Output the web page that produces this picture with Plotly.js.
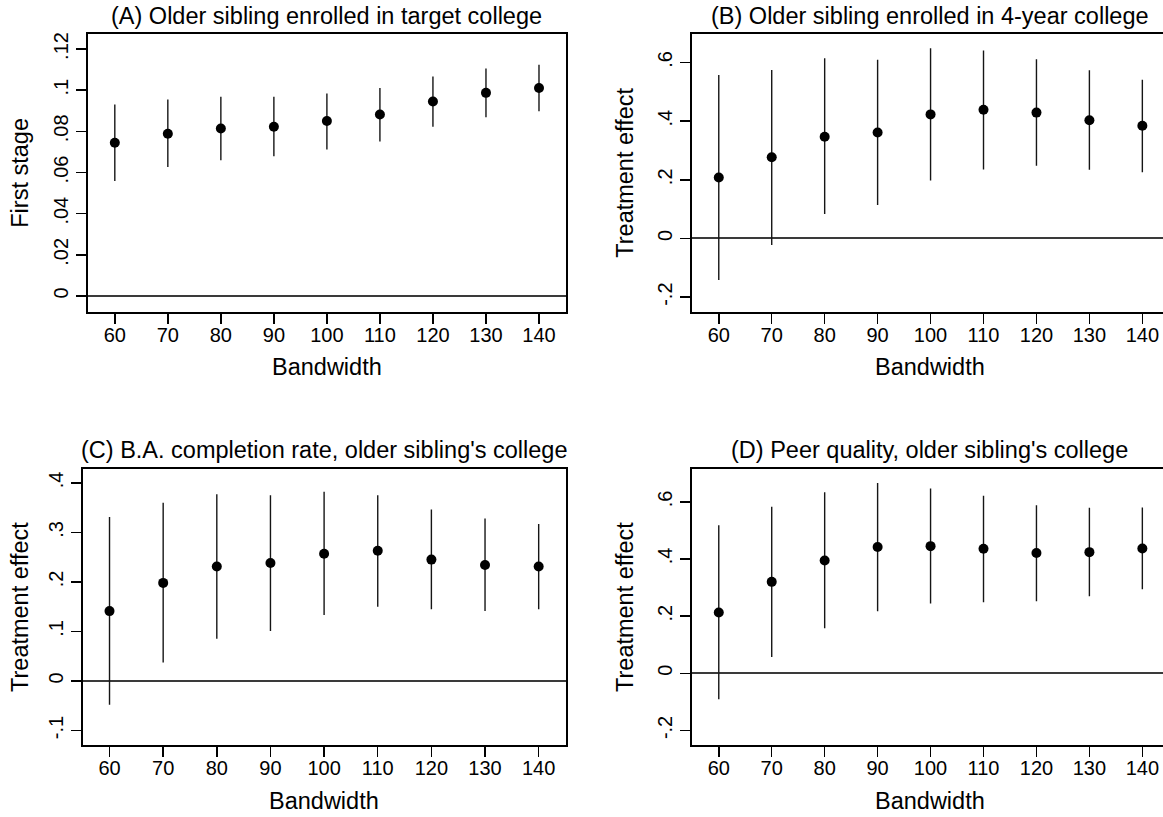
<!DOCTYPE html>
<html>
<head>
<meta charset="utf-8">
<script src="https://cdn.plot.ly/plotly-3.0.1.min.js"></script>
<style>
  html, body { margin: 0; padding: 0; background: #ffffff; overflow: hidden; }
  #chart { width: 1163px; height: 817px; }
</style>
</head>
<body>
<div id="chart"></div>
<script>
// ---- Data ----
const bandwidth = [60, 70, 80, 90, 100, 110, 120, 130, 140];

// (A) First stage: older sibling enrolled in target college
const estA = [0.0745, 0.0788, 0.0814, 0.0822, 0.0850, 0.0882, 0.0945, 0.0987, 0.1011];
const loA  = [0.0559, 0.0627, 0.0659, 0.0679, 0.0712, 0.0751, 0.0822, 0.0869, 0.0898];
const hiA  = [0.0931, 0.0955, 0.0968, 0.0968, 0.0984, 0.1011, 0.1066, 0.1105, 0.1124];

// (B) Older sibling enrolled in 4-year college
const estB = [0.208, 0.277, 0.347, 0.361, 0.423, 0.439, 0.429, 0.403, 0.384];
const loB  = [-0.142, -0.022, 0.083, 0.114, 0.198, 0.235, 0.248, 0.234, 0.226];
const hiB  = [0.557, 0.574, 0.614, 0.609, 0.648, 0.641, 0.611, 0.573, 0.541];

// (C) B.A. completion rate, older sibling's college
const estC = [0.141, 0.198, 0.231, 0.238, 0.257, 0.263, 0.245, 0.234, 0.231];
const loC  = [-0.048, 0.037, 0.085, 0.101, 0.133, 0.150, 0.145, 0.141, 0.145];
const hiC  = [0.331, 0.360, 0.377, 0.375, 0.382, 0.375, 0.346, 0.328, 0.317];

// (D) Peer quality, older sibling's college
const estD = [0.213, 0.320, 0.395, 0.442, 0.445, 0.436, 0.421, 0.424, 0.437];
const loD  = [-0.091, 0.057, 0.158, 0.217, 0.244, 0.249, 0.252, 0.270, 0.294];
const hiD  = [0.518, 0.583, 0.634, 0.666, 0.647, 0.621, 0.588, 0.579, 0.580];

// Tick labels
const xTickVals = [60, 70, 80, 90, 100, 110, 120, 130, 140];
const yTickValsA = [0, 0.02, 0.04, 0.06, 0.08, 0.10, 0.12];
const yTickTextA = ['0', '.02', '.04', '.06', '.08', '.1', '.12'];
const yTickValsBD = [-0.2, 0, 0.2, 0.4, 0.6];
const yTickTextBD = ['-.2', '0', '.2', '.4', '.6'];
const yTickValsC = [-0.1, 0, 0.1, 0.2, 0.3, 0.4];
const yTickTextC = ['-.1', '0', '.1', '.2', '.3', '.4'];

const panelTitles = [
  '(A) Older sibling enrolled in target college',
  '(B) Older sibling enrolled in 4-year college',
  "(C) B.A. completion rate, older sibling's college",
  "(D) Peer quality, older sibling's college"
];
const yTitles = ['First stage', 'Treatment effect', 'Treatment effect', 'Treatment effect'];
const xTitle = 'Bandwidth';

// ---- Layout geometry (pixels) ----
const W = 1163, H = 817;
const FONT = 'Liberation Sans, Arial, Helvetica, sans-serif';
const px = v => v / W;
const py = v => 1 - v / H;

const diff = (a, b) => a.map((v, i) => v - b[i]);

function trace(est, lo, hi, xa, ya) {
  return {
    type: 'scatter', mode: 'markers',
    x: bandwidth, y: est, xaxis: xa, yaxis: ya,
    marker: { size: 10, color: '#000000' },
    error_y: {
      type: 'data', symmetric: false,
      array: diff(hi, est), arrayminus: diff(est, lo),
      thickness: 1.4, width: 0, color: '#151515'
    },
    hoverinfo: 'x+y', showlegend: false
  };
}

const data = [
  trace(estA, loA, hiA, 'x', 'y'),
  trace(estB, loB, hiB, 'x2', 'y2'),
  trace(estC, loC, hiC, 'x3', 'y3'),
  trace(estD, loD, hiD, 'x4', 'y4')
];

const TICK_SIZE = 20;
const TITLE_SIZE = 23.5;

function xAxis(domain, range, anchor) {
  return {
    domain: domain, range: range, anchor: anchor,
    tickmode: 'array', tickvals: xTickVals,
    ticks: 'outside', ticklen: 10, tickwidth: 1.5, tickcolor: '#000',
    ticklabelstandoff: -6,
    showline: true, linewidth: 2, linecolor: '#000', mirror: true,
    showgrid: false, zeroline: false,
    tickfont: { family: FONT, size: TICK_SIZE, color: '#000' }
  };
}
function yAxis(domain, range, anchor, vals, text, mirror) {
  return {
    domain: domain, range: range, anchor: anchor,
    tickmode: 'array', tickvals: vals, ticktext: text, tickangle: -90,
    ticks: 'outside', ticklen: 10, tickwidth: 1.5, tickcolor: '#000',
    showline: true, linewidth: 2, linecolor: '#000', mirror: mirror,
    showgrid: false,
    zeroline: true, zerolinecolor: '#3a3a3a', zerolinewidth: 2,
    tickfont: { family: FONT, size: TICK_SIZE, color: '#000' }
  };
}

const topDom = [py(311.5), py(34)];
const botDom = [py(745.3), py(469)];
const domA = [px(88.3), px(565.5)];
const domC = [px(82.7), px(565.5)];
const domR = [px(692.3), 1];

const layout = {
  width: W, height: H,
  margin: { l: 0, r: 0, t: 0, b: 0 },
  paper_bgcolor: '#ffffff', plot_bgcolor: '#ffffff',
  font: { family: FONT, color: '#000' },
  showlegend: false,
  xaxis: xAxis(domA, [55, 145], 'y'),
  yaxis: yAxis(topDom, [-0.00753, 0.1273], 'x', yTickValsA, yTickTextA, true),
  xaxis2: xAxis(domR, [55, 143.9], 'y2'),
  yaxis2: yAxis(topDom, [-0.249, 0.697], 'x2', yTickValsBD, yTickTextBD, false),
  xaxis3: xAxis(domC, [55, 145], 'y3'),
  yaxis3: yAxis(botDom, [-0.130, 0.428], 'x3', yTickValsC, yTickTextC, true),
  xaxis4: xAxis(domR, [55, 143.9], 'y4'),
  yaxis4: yAxis(botDom, [-0.252, 0.715], 'x4', yTickValsBD, yTickTextBD, false),
  annotations: []
};

const centers = [
  (domA[0] + domA[1]) / 2,
  (px(692.3) + px(1167)) / 2,
  (domC[0] + domC[1]) / 2,
  (px(692.3) + px(1167)) / 2
];
const titleY = [16, 16, 450, 450];
const xTitleY = [367, 367, 801, 801];
const yTitleX = [20, 625, 20, 625];
const yTitleCY = [172.75, 172.75, 607, 607];

for (let i = 0; i < 4; i++) {
  layout.annotations.push({
    text: panelTitles[i], xref: 'paper', yref: 'paper',
    x: centers[i], y: py(titleY[i]), xanchor: 'center', yanchor: 'middle',
    showarrow: false, font: { family: FONT, size: TITLE_SIZE, color: '#000' }
  });
  layout.annotations.push({
    text: xTitle, xref: 'paper', yref: 'paper',
    x: centers[i], y: py(xTitleY[i]), xanchor: 'center', yanchor: 'middle',
    showarrow: false, font: { family: FONT, size: TITLE_SIZE, color: '#000' }
  });
  layout.annotations.push({
    text: yTitles[i], xref: 'paper', yref: 'paper', textangle: -90,
    x: px(yTitleX[i]), y: py(yTitleCY[i]), xanchor: 'center', yanchor: 'middle',
    showarrow: false, font: { family: FONT, size: TITLE_SIZE, color: '#000' }
  });
}

Plotly.newPlot('chart', data, layout, { staticPlot: true, displayModeBar: false });
</script>
</body>
</html>
